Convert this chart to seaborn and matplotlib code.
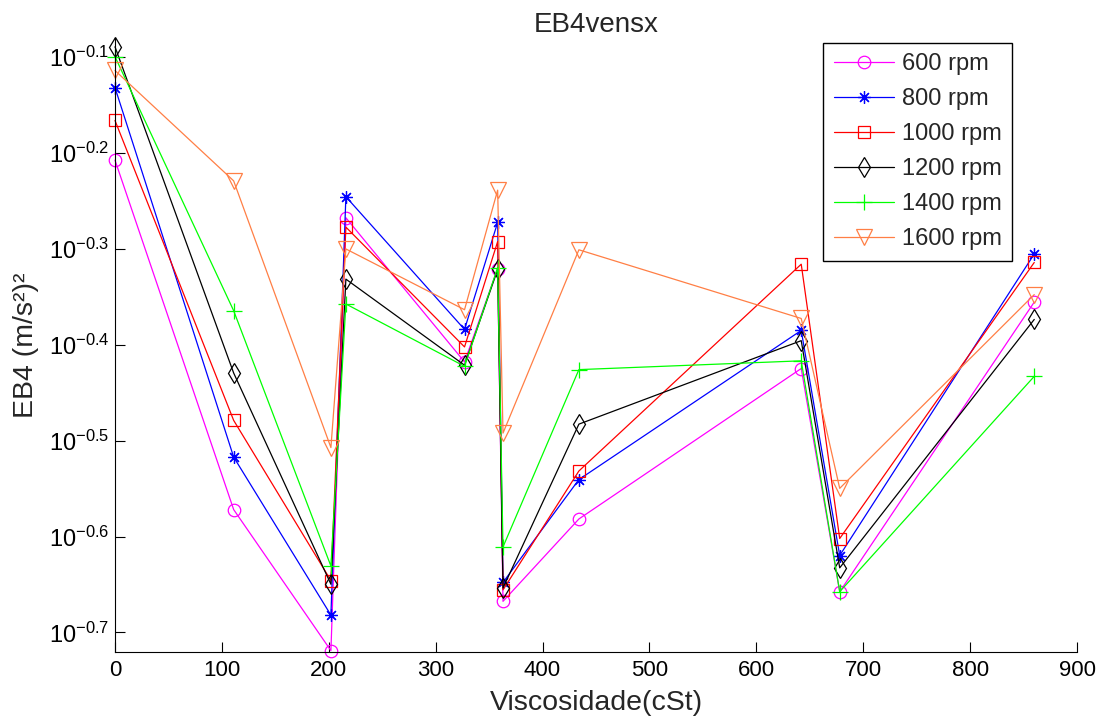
import numpy as np
import pandas as pd
import matplotlib
matplotlib.use("Agg")
import matplotlib.pyplot as plt
from matplotlib.ticker import FixedLocator, FixedFormatter, NullLocator
import seaborn as sns

# Oil viscosity (cSt) for each test point
viscosity = [0, 111, 202, 216, 327, 358, 363, 434, 642, 678, 860]

# EB4 level (m/s^2)^2 per shaft speed
eb4_600 = [0.620, 0.268, 0.191, 0.540, 0.382, 0.478, 0.215, 0.262, 0.376, 0.220, 0.441]
eb4_800 = [0.738, 0.304, 0.208, 0.568, 0.413, 0.534, 0.225, 0.288, 0.412, 0.240, 0.495]
eb4_1000 = [0.682, 0.332, 0.226, 0.528, 0.396, 0.510, 0.221, 0.294, 0.483, 0.250, 0.485]
eb4_1200 = [0.814, 0.372, 0.224, 0.466, 0.379, 0.477, 0.222, 0.329, 0.402, 0.233, 0.423]
eb4_1400 = [0.795, 0.432, 0.234, 0.439, 0.378, 0.479, 0.245, 0.375, 0.383, 0.220, 0.369]
eb4_1600 = [0.769, 0.590, 0.311, 0.501, 0.433, 0.577, 0.322, 0.500, 0.424, 0.282, 0.449]

series_labels = ["600 rpm", "800 rpm", "1000 rpm", "1200 rpm", "1400 rpm", "1600 rpm"]
series_values = [eb4_600, eb4_800, eb4_1000, eb4_1200, eb4_1400, eb4_1600]
colors = ["#FF00FF", "#0000FF", "#FF0000", "#000000", "#00FF00", "#FF7F45"]
markers = ["o", (8, 2, 0), "s", "d", "+", "v"]
msizes = [9, 9, 9, 10, 11, 11]

ytick_exponents = [-0.7, -0.6, -0.5, -0.4, -0.3, -0.2, -0.1]
xticks = [0, 100, 200, 300, 400, 500, 600, 700, 800, 900]

sns.set_style("ticks")
plt.rcParams["font.family"] = ["Liberation Sans", "DejaVu Sans"]
plt.rcParams["mathtext.default"] = "regular"

frames = []
for lab, vals in zip(series_labels, series_values):
    frames.append(pd.DataFrame({"Viscosidade": viscosity, "EB4": vals, "rpm": lab}))
df = pd.concat(frames, ignore_index=True)

fig = plt.figure(figsize=(11.04, 7.19), dpi=100)
ax = fig.add_axes([115 / 1104, 1 - 652 / 719, 962 / 1104, 614 / 719])

for lab, col, mk, ms in zip(series_labels, colors, markers, msizes):
    sub = df[df["rpm"] == lab]
    sns.lineplot(data=sub, x="Viscosidade", y="EB4", ax=ax, color=col,
                 marker=mk, markersize=ms, markerfacecolor="none",
                 markeredgecolor=col, markeredgewidth=0.9, linewidth=0.9,
                 sort=False, label=lab, clip_on=False)

ax.set_yscale("log")
ax.set_xlim(0, 900)
ax.set_ylim(10 ** -0.7204, 10 ** -0.0802)

ax.yaxis.set_major_locator(FixedLocator([10 ** e for e in ytick_exponents]))
ax.yaxis.set_major_formatter(FixedFormatter([r"$10^{%g}$" % e for e in ytick_exponents]))
ax.yaxis.set_minor_locator(NullLocator())
ax.set_xticks(xticks)
ax.set_xticklabels([str(v) for v in xticks])

ax.tick_params(axis="both", direction="in", length=7, width=0.8, colors="black")
ax.tick_params(axis="x", pad=6, labelsize=16)
ax.tick_params(axis="y", pad=4, labelsize=17)
sns.despine(ax=ax)
for s in ("left", "bottom"):
    ax.spines[s].set_color("black")
    ax.spines[s].set_linewidth(0.8)

ax.set_xlabel("Viscosidade(cSt)", fontsize=20.5, labelpad=6)
ax.set_ylabel("EB4 (m/s²)²", fontsize=20.5, labelpad=7)
ax.set_title("EB4vensx", fontsize=20, pad=3)

leg = ax.legend(loc="upper right", bbox_to_anchor=(0.9327, 0.9923),
                bbox_transform=ax.transAxes, borderaxespad=0, fontsize=17,
                frameon=True, fancybox=False, framealpha=1, edgecolor="black",
                borderpad=0.45, handlelength=2.55, handletextpad=0.33,
                labelspacing=0.55, numpoints=1)
leg.get_frame().set_linewidth(1.0)

fig.savefig("out.png", dpi=100)
